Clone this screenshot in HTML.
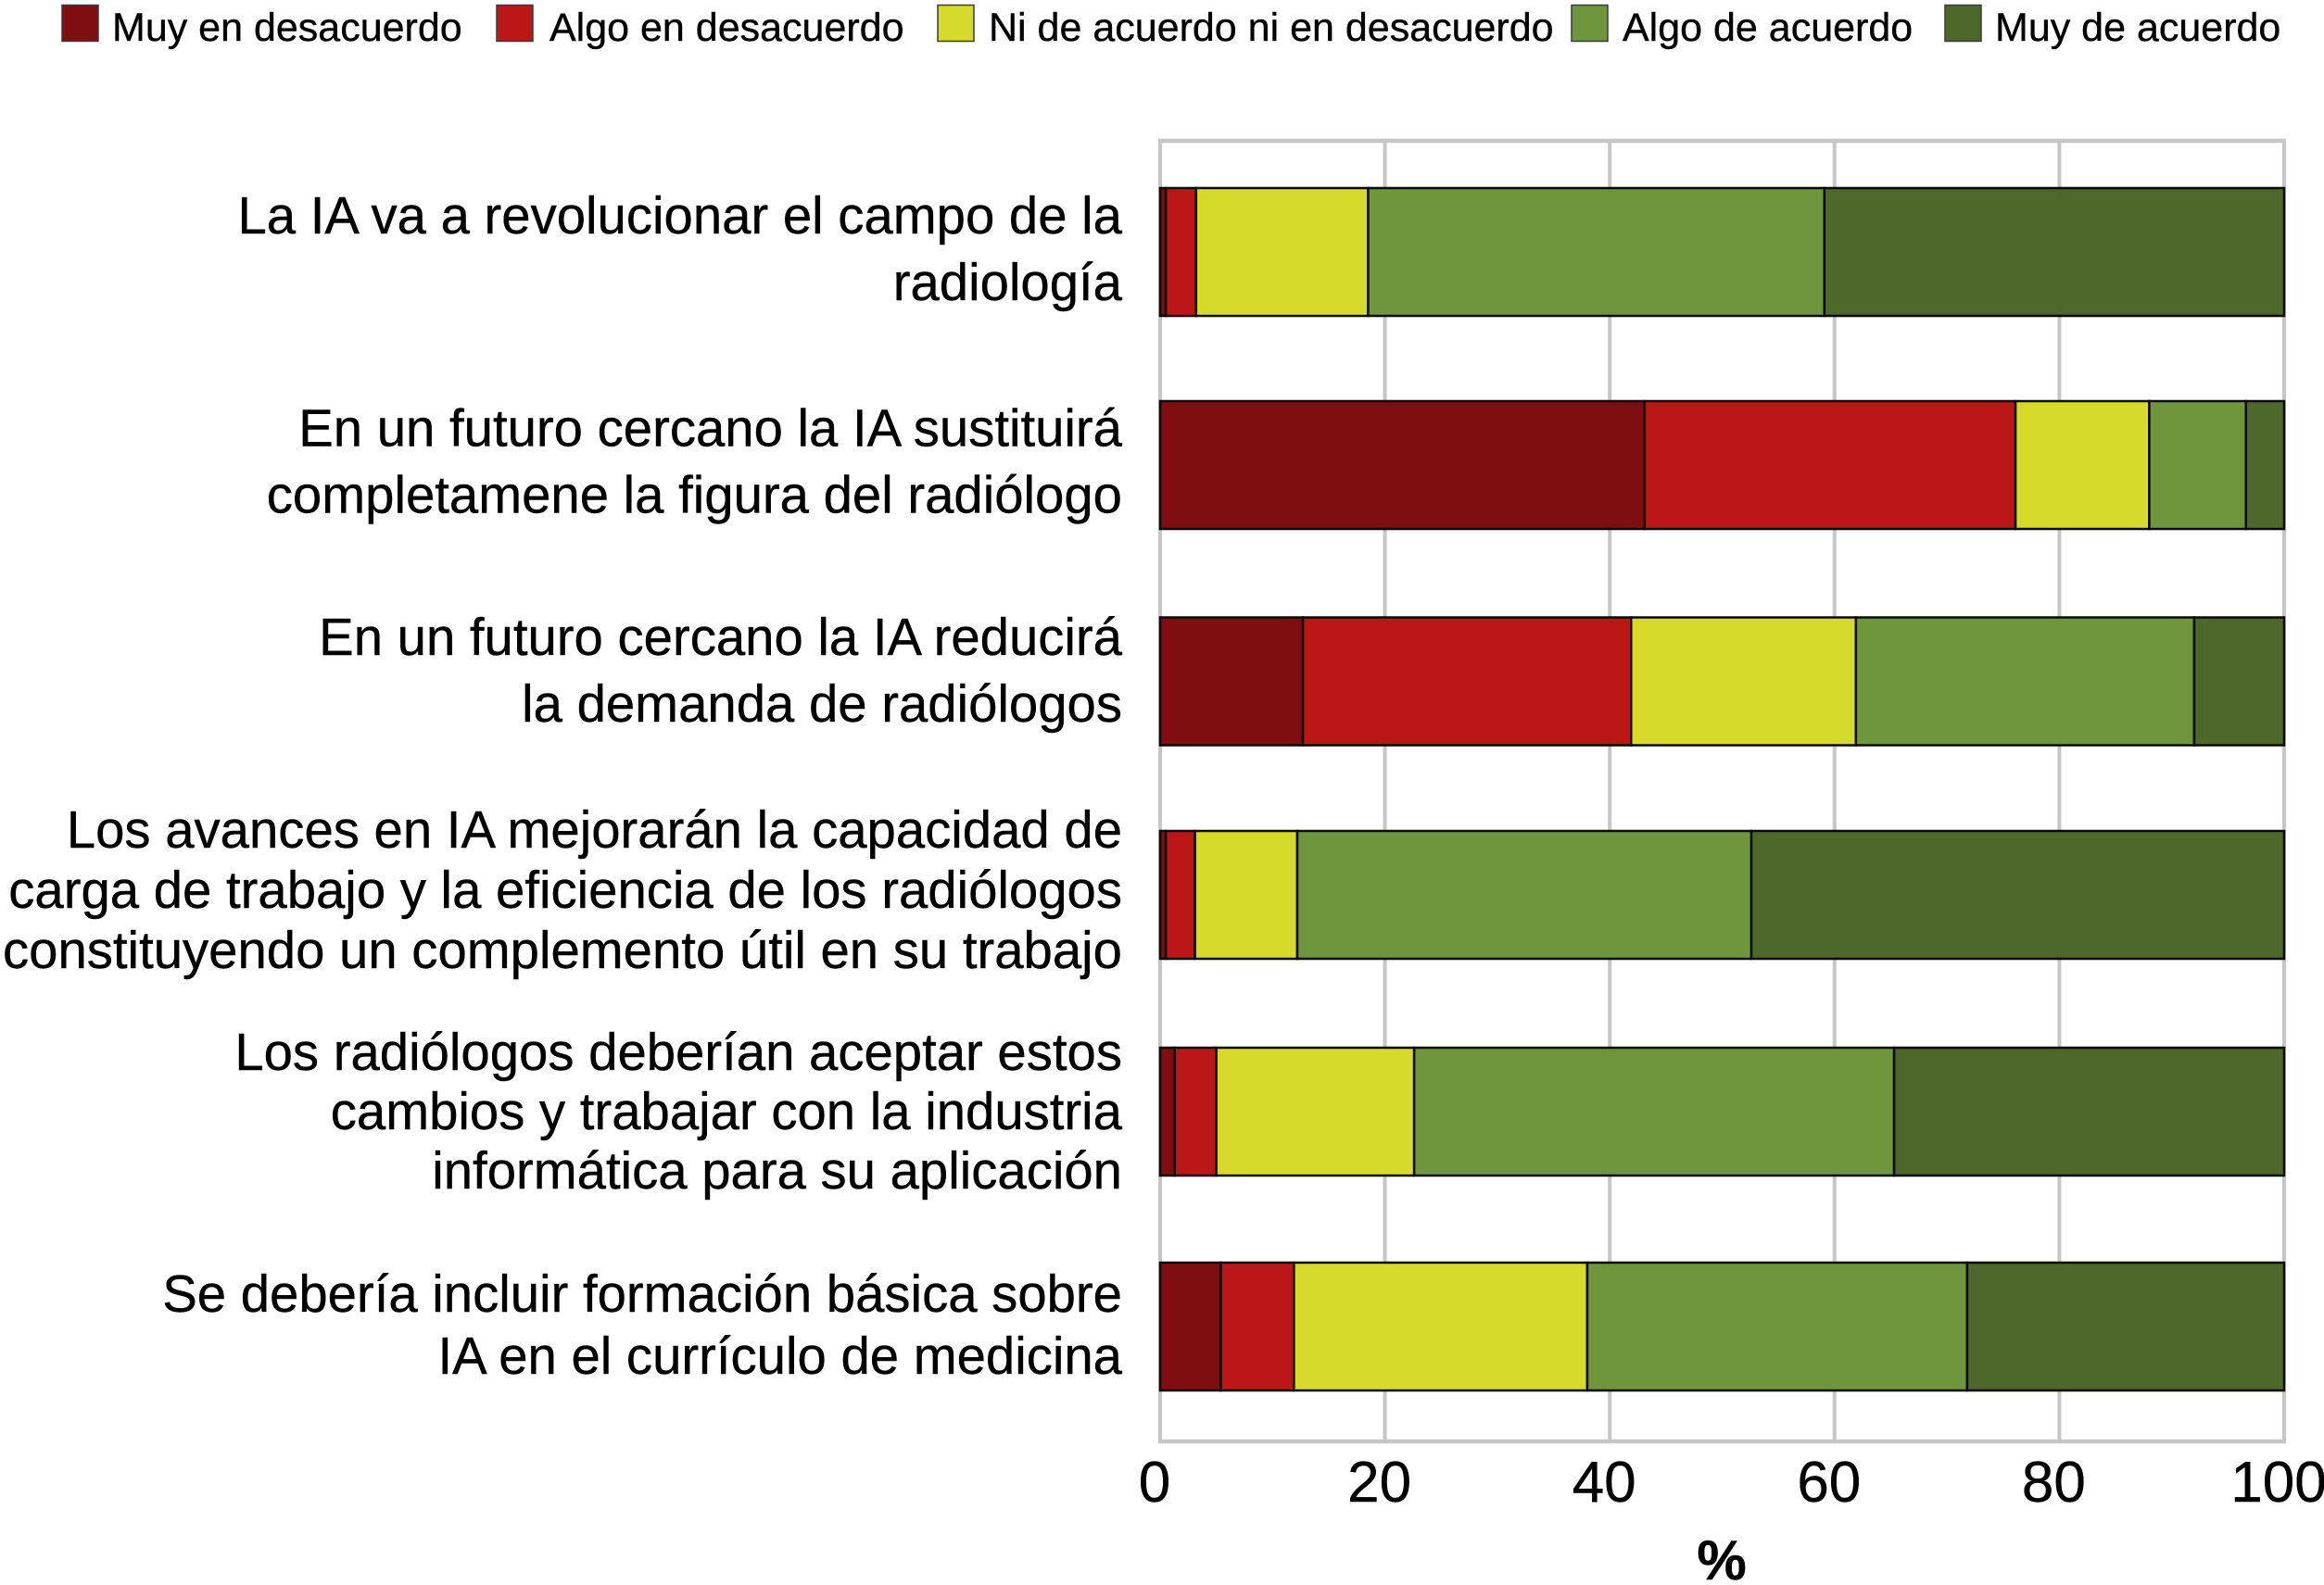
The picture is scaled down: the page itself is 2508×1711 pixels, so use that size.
<!DOCTYPE html>
<html lang="es">
<head>
<meta charset="utf-8">
<title>Opinión sobre la IA en radiología</title>
<style>
html,body{margin:0;padding:0;background:#fff;}
svg{display:block;font-family:"Liberation Sans",Arial,sans-serif;}
text{stroke:#000;stroke-width:0.4px;}
</style>
</head>
<body>
<svg id="chart" xmlns="http://www.w3.org/2000/svg" width="2508" height="1711" viewBox="0 0 2508 1711"></svg>
<script>
const seriesNames = ["Muy en desacuerdo", "Algo en desacuerdo", "Ni de acuerdo ni en desacuerdo", "Algo de acuerdo", "Muy de acuerdo"];
const categories = [
  ["La IA va a revolucionar el campo de la", "radiología"],
  ["En un futuro cercano la IA sustituirá", "completamene la figura del radiólogo"],
  ["En un futuro cercano la IA reducirá", "la demanda de radiólogos"],
  ["Los avances en IA mejorarán la capacidad de", "carga de trabajo y la eficiencia de los radiólogos", "constituyendo un complemento útil en su trabajo"],
  ["Los radiólogos deberían aceptar estos", "cambios y trabajar con la industria", "informática para su aplicación"],
  ["Se debería incluir formación básica sobre", "IA en el currículo de medicina"]
];
const muyDesacuerdo = [0.5, 43.1, 12.7, 0.5, 1.3, 5.4];
const algoDesacuerdo = [2.7, 33.0, 29.2, 2.6, 3.7, 6.5];
const neutral = [15.3, 11.9, 20.0, 9.1, 17.6, 26.1];
const algoAcuerdo = [40.6, 8.6, 30.1, 40.4, 42.7, 33.8];
const muyAcuerdo = [40.9, 3.4, 8.0, 47.4, 34.7, 28.2];
const xTicks = [0, 20, 40, 60, 80, 100];

const seriesValues = [muyDesacuerdo, algoDesacuerdo, neutral, algoAcuerdo, muyAcuerdo];
const seriesColors = ["#7e0e10", "#bb1717", "#d7da2a", "#6f963d", "#4e672b"];

const plot = {left: 1252, right: 2465, top: 152, bottom: 1556};
const band = {first: 203, step: 232, height: 138};
const bandNudge = [0, -2, -0.5, -2, 0, 0];
const labelRight = 1211;
const labelFont = 56.3;
const labelLineStep = [72, 72, 72, 65, 64, 67];
const labelShift = [16, 15.5, 7.5, 14, 19, 17.5];
const legendLayout = [
  {swatch: 67, text: 121},
  {swatch: 536, text: 593},
  {swatch: 1012, text: 1067},
  {swatch: 1696, text: 1751},
  {swatch: 2099, text: 2153}
];

const svg = document.getElementById('chart');
const NS = 'http://www.w3.org/2000/svg';
function make(tag, attrs, parent) {
  const el = document.createElementNS(NS, tag);
  for (const k in attrs) el.setAttribute(k, attrs[k]);
  (parent || svg).appendChild(el);
  return el;
}
function kebab(s) {
  return s.normalize('NFD').replace(/[\u0300-\u036f]/g, '').toLowerCase().replace(/[^a-z0-9]+/g, '-').replace(/^-|-$/g, '');
}
const xScale = v => plot.left + (v / 100) * (plot.right - plot.left);
const yScale = i => band.first + i * band.step + bandNudge[i];

make('rect', {x: 0, y: 0, width: 2508, height: 1711, fill: '#ffffff'});

/* legend */
seriesNames.forEach((name, i) => {
  const sw = make('rect', {x: legendLayout[i].swatch, y: 5.5, width: 39, height: 39, fill: seriesColors[i], stroke: '#3a3a3a', 'stroke-width': 1.5});
  
  
  const t = make('text', {x: legendLayout[i].text, y: 44, 'font-size': 43, fill: '#000'});
  t.textContent = name;
  
  
});

/* gridlines and plot frame */
xTicks.forEach(v => {
  const g = make('line', {x1: xScale(v), x2: xScale(v), y1: plot.top, y2: plot.bottom, stroke: '#c6c6c6', 'stroke-width': 4});
  
  
});
const topLine = make('line', {x1: plot.left - 2, x2: plot.right + 2, y1: plot.top, y2: plot.top, stroke: '#c6c6c6', 'stroke-width': 4.5});


const bottomLine = make('line', {x1: plot.left - 2, x2: plot.right + 2, y1: plot.bottom, y2: plot.bottom, stroke: '#c6c6c6', 'stroke-width': 4.5});



/* stacked bars */
categories.forEach((lines, c) => {
  let acc = 0;
  const y = yScale(c);
  seriesValues.forEach((vals, s) => {
    const v = vals[c];
    const r = make('rect', {x: xScale(acc), y: y, width: xScale(acc + v) - xScale(acc), height: band.height, fill: seriesColors[s], stroke: '#0a0a0a', 'stroke-width': 2.5});
    
    
    acc += v;
  });

  /* category label */
  const step = labelLineStep[c];
  const mid = y + band.height / 2 + labelShift[c];
  const startY = mid - step * (lines.length - 1) / 2;
  const t = make('text', {'text-anchor': 'end', 'font-size': labelFont, fill: '#000'});
  
  
  lines.forEach((ln, j) => {
    const sp = make('tspan', {x: labelRight, y: startY + j * step}, t);
    sp.textContent = ln;
  });
});

/* x tick labels */
xTicks.forEach(v => {
  const t = make('text', {x: xScale(v) - 6, y: 1621, 'text-anchor': 'middle', 'font-size': 62, fill: '#000'});
  t.textContent = v;
  
  
});

const axisTitle = make('text', {x: 1858, y: 1705, 'text-anchor': 'middle', 'font-size': 60, 'font-weight': 'bold', fill: '#000'});
axisTitle.textContent = '%';


</script>
</body>
</html>
